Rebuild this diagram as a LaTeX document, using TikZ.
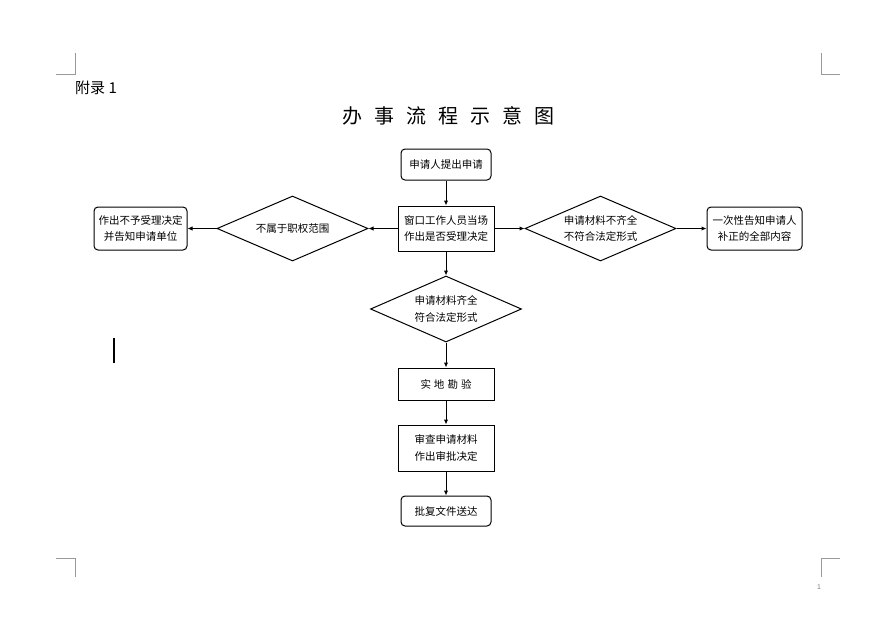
\documentclass[tikz,border=0pt]{standalone}
\usepackage{fontspec}
\setmainfont{Liberation Sans}
\newfontfamily\cjk{Noto Sans CJK SC}
\usetikzlibrary{shapes.geometric,arrows.meta}
\begin{document}
\begin{tikzpicture}[x=1pt,y=-1pt,
  every node/.style={font=\cjk\fontsize{10.5}{16.5}\selectfont, align=center, inner sep=0pt},
  rbox/.style={draw, line width=1pt, rounded corners=4pt},
  sbox/.style={draw, line width=1pt},
  dia/.style={draw, line width=1pt, diamond, aspect=2.32, minimum width=151pt, minimum height=65pt},
  arr/.style={-{Latex[length=5pt,width=4.5pt]}, line width=1pt},
  crop/.style={draw=gray!80, line width=0.8pt}]
\useasboundingbox (0,0) rectangle (896,624);
\fill[white] (0,0) rectangle (896,624);
% crop marks
\draw[crop] (75,53) -- (75,74) -- (56,74);
\draw[crop] (821,53) -- (821,74) -- (840,74);
\draw[crop] (56,558) -- (75,558) -- (75,577);
\draw[crop] (840,558) -- (821,558) -- (821,577);
\node[font=\fontsize{7}{8}\selectfont, text=gray] (pg) at (819,587) {1};
% cursor
\draw[line width=1.8pt] (114,338) -- (114,363);
% header
\node[font=\cjk\fontsize{15}{18}\selectfont, anchor=west] (fl) at (75,88) {附录 1};
\node[font=\cjk\fontsize{20}{24}\selectfont] (title) at (448,116) {办\hspace{12pt}事\hspace{12pt}流\hspace{12pt}程\hspace{12pt}示\hspace{12pt}意\hspace{12pt}图};
% nodes
\node[rbox, minimum width=90pt, minimum height=31pt] (start) at (446,164.5) {申请人提出申请};
\node[sbox, minimum width=96pt, minimum height=45pt] (win) at (446,228.5) {窗口工作人员当场\\作出是否受理决定};
\node[dia] (ld) at (292.5,228.5) {不属于职权范围};
\node[rbox, minimum width=93pt, minimum height=43pt] (lb) at (140.5,228.5) {作出不予受理决定\\并告知申请单位};
\node[dia] (rd) at (600.5,228.5) {申请材料不齐全\\不符合法定形式};
\node[rbox, minimum width=95pt, minimum height=43pt] (rb) at (754.5,228.5) {一次性告知申请人\\补正的全部内容};
\node[dia, minimum height=66pt] (md) at (446,309) {申请材料齐全\\符合法定形式};
\node[sbox, minimum width=96pt, minimum height=32pt] (kc) at (446,384) {实\hspace{3pt}地\hspace{3pt}勘\hspace{3pt}验};
\node[sbox, minimum width=96pt, minimum height=46pt] (sc) at (446,448) {审查申请材料\\作出审批决定};
\node[rbox, minimum width=90pt, minimum height=30pt] (pf) at (446,511) {批复文件送达};
% connectors
\draw[arr] (start) -- (win);
\draw[arr] (win) -- (ld);
\draw[arr] (ld) -- (lb);
\draw[arr] (win) -- (rd);
\draw[arr] (rd) -- (rb);
\draw[arr] (win) -- (md);
\draw[arr] (md) -- (kc);
\draw[arr] (kc) -- (sc);
\draw[arr] (sc) -- (pf);
\end{tikzpicture}
\end{document}
